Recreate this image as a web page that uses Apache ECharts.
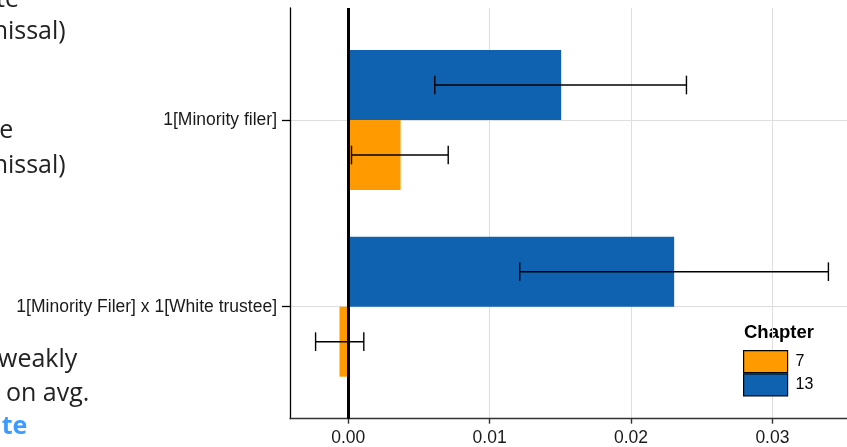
<!DOCTYPE html>
<html><head><meta charset="utf-8">
<script src="https://cdn.jsdelivr.net/npm/echarts@6/dist/echarts.min.js"></script>
<style>html,body{margin:0;padding:0;background:#fff;overflow:hidden}#c{width:847px;height:447px}</style>
</head><body><div id="c"></div>
<script>
// ---- data ----
const categories = ['1[Minority Filer] x 1[White trustee]', '1[Minority filer]']; // y = 1, 2
const chapters = ['7', '13'];
const est7 = [-0.00062, 0.0037];
const low7 = [-0.00231, 0.00023];
const high7 = [0.0011, 0.00707];
const est13 = [0.02305, 0.01506];
const low13 = [0.01213, 0.00612];
const high13 = [0.03396, 0.02392];
const xTicks = [0, 0.01, 0.02, 0.03];
const legendTitle = 'Chapter';
const slideDark = ['te', 'nissal)', 'e', 'nissal)', 'weakly', 'on avg.'];
const slideBlue = ['te'];

// ---- chart ----
const chart = echarts.init(document.getElementById('c'), null, {renderer: 'canvas'});
const BAR_HALF = 0.1875, CAP = 0.05;
function makeRender(offset) {
  return function (params, api) {
    const est = api.value(0), pos = api.value(1), lo = api.value(2), hi = api.value(3);
    const yc = pos + offset;
    const a = api.coord([0, yc + BAR_HALF]);
    const b = api.coord([est, yc - BAR_HALF]);
    const l = api.coord([lo, yc]), h = api.coord([hi, yc]);
    const capT = api.coord([lo, yc + CAP])[1], capB = api.coord([lo, yc - CAP])[1];
    const ls = {stroke: '#000', lineWidth: 1.4};
    return {type: 'group', children: [
      {type: 'rect', shape: {x: Math.min(a[0], b[0]), y: Math.min(a[1], b[1]), width: Math.abs(b[0] - a[0]), height: Math.abs(b[1] - a[1])}, style: {fill: api.visual('color')}},
      {type: 'line', shape: {x1: l[0], y1: l[1], x2: h[0], y2: h[1]}, style: ls},
      {type: 'line', shape: {x1: l[0], y1: capT, x2: l[0], y2: capB}, style: ls},
      {type: 'line', shape: {x1: h[0], y1: capT, x2: h[0], y2: capB}, style: ls}
    ]};
  };
}
const d7 = categories.map((c, i) => [est7[i], i + 1, low7[i], high7[i]]);
const d13 = categories.map((c, i) => [est13[i], i + 1, low13[i], high13[i]]);
const axisFont = {fontFamily: 'Liberation Sans', fontSize: 17.5, color: '#1a1a1a'};

const graphics = [];
const darkRight = [19, 65.7, 13.3, 65.7, 77.3, 89.3];
const darkBase = [9.3, 40.7, 140, 175, 369, 403.3];
slideDark.forEach((t, i) => graphics.push({type: 'text', x: darkRight[i], y: darkBase[i] - 9, style: {text: t, align: 'right', verticalAlign: 'middle', font: '25px "Open Sans"', fill: '#222'}}));
slideBlue.forEach((t) => graphics.push({type: 'text', x: 27.3, y: 436 - 9, style: {text: t, align: 'right', verticalAlign: 'middle', font: 'bold 25px "Open Sans"', fill: '#3d9bff'}}));
graphics.push({type: 'text', x: 744, y: 333, style: {text: legendTitle, align: 'left', verticalAlign: 'middle', font: 'bold 18.5px "Liberation Sans"', fill: '#000'}});

chart.setOption({
  animation: false,
  grid: {left: 290, top: 8, width: 564, height: 410.7, outerBoundsMode: 'none', containLabel: false},
  xAxis: {
    type: 'value', min: -0.00412, max: 0.03577,
    axisLine: {onZero: false, lineStyle: {color: '#333', width: 1.4}},
    axisTick: {customValues: xTicks, length: 5, lineStyle: {color: '#333', width: 1.4}},
    axisLabel: {customValues: xTicks, formatter: v => v.toFixed(2), margin: 10, ...axisFont},
    splitLine: {show: true, lineStyle: {color: '#dedede', width: 1}}
  },
  yAxis: {
    type: 'value', min: 0.4, max: 2.6,
    axisLine: {show: true, onZero: false, lineStyle: {color: '#000', width: 1.3}},
    axisTick: {show: true, customValues: [1, 2], length: 8, lineStyle: {color: '#000', width: 1.3}},
    axisLabel: {customValues: [1, 2], formatter: v => categories[Math.round(v) - 1], margin: 13, ...axisFont},
    splitLine: {show: true, lineStyle: {color: '#dedede', width: 1}}
  },
  legend: {
    data: chapters, orient: 'vertical', left: 743, top: 350, padding: 0, itemWidth: 44, itemHeight: 22, itemGap: 0,
    icon: 'rect', itemStyle: {borderColor: '#000', borderWidth: 1.2},
    textStyle: {fontFamily: 'Liberation Sans', fontSize: 16, color: '#000', padding: [0, 0, 0, 3]},
    selectedMode: false
  },
  series: [
    {name: '7', type: 'custom', renderItem: makeRender(-BAR_HALF), data: d7, encode: {x: [0, 2, 3], y: 1}, itemStyle: {color: '#ff9a00'}, z: 3},
    {name: '13', type: 'custom', renderItem: makeRender(BAR_HALF), data: d13, encode: {x: [0, 2, 3], y: 1}, itemStyle: {color: '#0e62b0'}, z: 3,
     markLine: {silent: true, symbol: 'none', label: {show: false}, lineStyle: {color: '#000', width: 3, type: 'solid'}, data: [{xAxis: 0}], z: 10}}
  ],
  graphic: graphics
});
</script></body></html>
